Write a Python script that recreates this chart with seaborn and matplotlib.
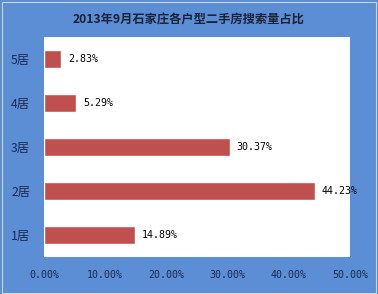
import matplotlib
matplotlib.use("Agg")
import matplotlib.pyplot as plt
import seaborn as sns
import pandas as pd
from matplotlib.ticker import FuncFormatter
from matplotlib.patches import Rectangle

categories = ["5居", "4居", "3居", "2居", "1居"]
values = [2.83, 5.29, 30.37, 44.23, 14.89]
value_labels = ["2.83%", "5.29%", "30.37%", "44.23%", "14.89%"]
x_ticks = [0, 10, 20, 30, 40, 50]
title = "2013年9月石家庄各户型二手房搜索量占比"

sns.set_theme(style="white")
plt.rcParams["font.family"] = ["Noto Sans CJK SC", "DejaVu Sans"]

bg = "#5B8ED4"
bar_color = "#C0504D"
text_color = "#1C2A52"

df = pd.DataFrame({"cat": categories, "val": values})

fig = plt.figure(figsize=(3.78, 2.94), dpi=100, facecolor=bg)
ax = fig.add_axes([44 / 378, 37 / 294, 306 / 378, 220 / 294])
ax.set_facecolor("white")

sns.barplot(data=df, x="val", y="cat", order=categories, color=bar_color,
            saturation=1, width=0.39, orient="h", ax=ax)

ax.set_xlim(0, 50)
ax.set_ylim(4.5, -0.5)
ax.set_xticks(x_ticks)
ax.xaxis.set_major_formatter(FuncFormatter(lambda v, p: f"{v:.2f}%"))
ax.set_xlabel("")
ax.set_ylabel("")
for s in ax.spines.values():
    s.set_visible(False)
ax.tick_params(axis="x", length=0, pad=9, labelsize=7.2, labelcolor=text_color)
ax.tick_params(axis="y", length=0, pad=10, labelsize=8.8, labelcolor=text_color)
for lbl in ax.get_xticklabels():
    lbl.set_family("DejaVu Sans Mono")

ax.bar_label(ax.containers[0], labels=value_labels, padding=5,
             fontsize=7.2, family="DejaVu Sans Mono", color="black")

fig.text(0.5, 1 - 20 / 294, title, ha="center", va="center",
         fontsize=8.8, fontweight="bold", color="#1A2238")

fig.patches.append(Rectangle((0.004, 0.004), 0.992, 0.99, transform=fig.transFigure,
                             fill=False, edgecolor="#C9D6E8", linewidth=0.8))

fig.savefig("out.png", dpi=100, facecolor=bg)
